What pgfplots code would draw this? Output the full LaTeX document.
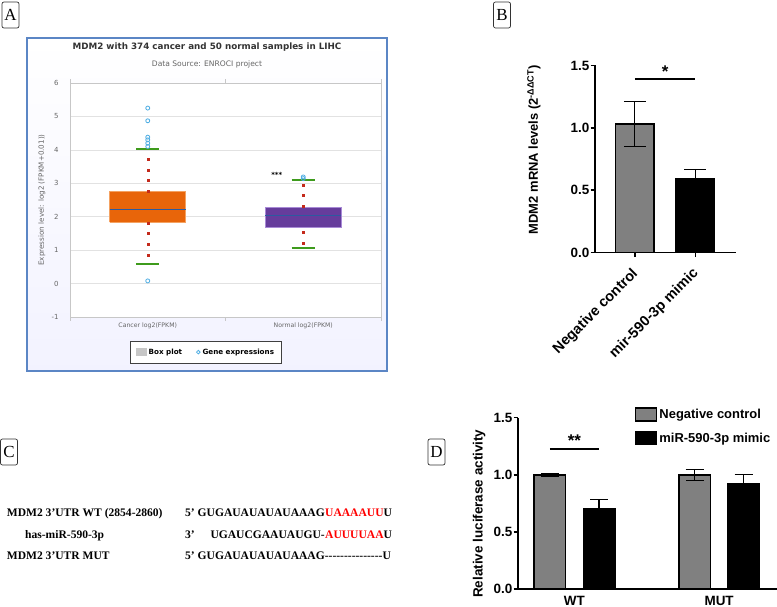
\documentclass[border=0pt]{standalone}
\usepackage{fontspec}
\usepackage{pgfplots}
\pgfplotsset{compat=1.18}
\setmainfont{Liberation Sans}
\newfontfamily\djv{DejaVu Sans}
\newfontfamily\tms{Liberation Serif}
\definecolor{frameblue}{HTML}{5B86C5}
\definecolor{boxorange}{HTML}{E8650A}
\definecolor{boxorangeL}{HTML}{F4A262}
\definecolor{boxpurple}{HTML}{663C9C}
\definecolor{boxpurpleL}{HTML}{A88AD6}
\definecolor{medblue}{HTML}{2C5AA0}
\definecolor{whgreen}{HTML}{3E9B1C}
\definecolor{dotred}{HTML}{C42A1C}
\definecolor{outblue}{HTML}{4FAEE3}
\definecolor{gridgray}{HTML}{E2E2E2}
\definecolor{txtgray}{HTML}{666666}
\definecolor{bargray}{HTML}{808080}
\definecolor{seqred}{HTML}{FF0000}
\begin{document}
\begin{tikzpicture}
\useasboundingbox (0,0) rectangle (777bp,607bp);
\fill[white] (0,0) rectangle (777bp,607bp);

% panel letters
\foreach \l/\x/\y in {A/10.5/592, B/502/592, C/9/155, D/436.5/155}
  \node[draw=black!80, rounded corners=2bp, line width=0.7bp, font=\tms\fontsize{17}{17}\selectfont, minimum width=17bp, minimum height=26bp, inner sep=0pt] at (\x bp,\y bp) {\l};

% ---------------- Panel A ----------------
\shade[top color=white, bottom color=blue!5] (27bp,236bp) rectangle (387bp,569bp);
\draw[frameblue, line width=1.2bp] (27bp,236bp) rectangle (387bp,569bp);
\node[font=\djv\bfseries\fontsize{8.8}{10}\selectfont, text=black!80] at (207bp,560bp) {MDM2 with 374 cancer and 50 normal samples in LIHC};
\node[font=\djv\fontsize{7.6}{9}\selectfont, text=txtgray] at (207bp,543bp) {Data Source: ENROCI project};

\begin{axis}[
  at={(70bp,290bp)}, anchor=south west, scale only axis,
  width=311bp, height=234bp,
  xmin=0.5, xmax=2.5, ymin=-1, ymax=6,
  axis background/.style={fill=white},
  axis line style={draw=black!22, line width=0.8bp},
  ytick={-1,0,1,2,3,4,5,6}, ymajorgrids, grid style={gridgray, line width=0.7bp},
  major tick length=0pt,
  xtick={1,2}, xticklabels={Cancer log2(FPKM), Normal log2(FPKM)},
  extra x ticks={0.5,1.5,2.5}, extra x tick labels={},
  extra x tick style={major tick length=4bp, tick align=outside, tick style={draw=black!22, line width=0.8bp}, grid=none},
  yticklabel style={font=\djv\fontsize{7}{8}\selectfont, text=txtgray, xshift=-8bp},
  xticklabel style={font=\djv\fontsize{6.2}{8}\selectfont, text=txtgray, yshift=-2bp},
  /pgf/number format/assume math mode=true,
  ylabel={Expression level: log2 (FPKM+0.01))},
  every axis y label/.style={at={(axis description cs:-0.09,0.5)}, rotate=90, anchor=center, font=\djv\fontsize{7.2}{8}\selectfont, text=txtgray},
  legend style={at={(axis description cs:0.437,-0.15)}, anchor=center, legend columns=2,
    draw=black!75, line width=0.9bp, fill=white, inner xsep=5bp, inner ysep=5.5bp,
    font=\djv\bfseries\fontsize{7.2}{8}\selectfont,
    /tikz/every even column/.append style={column sep=12bp}},
  clip=false,
]
% cancer
\addplot[only marks, mark=square*, mark size=1bp, dotred, forget plot] coordinates {(1,3.72)(1,3.40)(1,3.08)(1,2.76)(1,1.81)(1,1.50)(1,1.18)(1,0.86)};
\addplot[fill=boxorange, draw=boxorangeL, line width=0.8bp, forget plot] coordinates {(0.755,1.84)(1.245,1.84)(1.245,2.75)(0.755,2.75)(0.755,1.84)};
\addplot[medblue, line width=1.5bp, forget plot] coordinates {(0.755,2.22)(1.245,2.22)};
\addplot[whgreen, line width=1.6bp, forget plot] coordinates {(0.926,4.02)(1.074,4.02)};
\addplot[whgreen, line width=1.6bp, forget plot] coordinates {(0.926,0.58)(1.074,0.58)};
\addplot[only marks, mark=o, mark size=2bp, outblue, line width=0.8bp, forget plot] coordinates {(1,5.25)(1,4.87)(1,4.38)(1,4.30)(1,4.20)(1,4.10)(1,0.08)};
% normal
\addplot[only marks, mark=square*, mark size=1bp, dotred, forget plot] coordinates {(2,2.94)(2,2.63)(2,2.30)(2,1.55)(2,1.22)};
\addplot[fill=boxpurple, draw=boxpurpleL, line width=0.8bp, forget plot] coordinates {(1.755,1.69)(2.245,1.69)(2.245,2.28)(1.755,2.28)(1.755,1.69)};
\addplot[medblue, line width=1.5bp, forget plot] coordinates {(1.755,2.04)(2.245,2.04)};
\addplot[whgreen, line width=1.6bp, forget plot] coordinates {(1.926,3.09)(2.074,3.09)};
\addplot[whgreen, line width=1.6bp, forget plot] coordinates {(1.926,1.06)(2.074,1.06)};
\addplot[only marks, mark=o, mark size=2bp, outblue, line width=0.8bp, forget plot] coordinates {(2,3.19)(2,3.14)};
\node[font=\djv\bfseries\fontsize{7}{8}\selectfont] at (axis cs:1.83,3.24) {***};
\addlegendimage{legend image code/.code={\fill[black!22] (0bp,-3.8bp) rectangle (10bp,3.8bp);}}
\addlegendentry{Box plot}
\addlegendimage{legend image code/.code={\draw[outblue, line width=0.8bp] (5bp,0bp) circle (1.8bp);}}
\addlegendentry{Gene expressions}
\end{axis}

% ---------------- Panel B ----------------
\begin{axis}[
  at={(595bp,354.3bp)}, anchor=south west, scale only axis,
  width=141bp, height=187.2bp,
  xmin=-0.66, xmax=1.67, ymin=0, ymax=1.5,
  axis lines*=left, axis line style={line width=1.6bp},
  ytick={0,0.5,1,1.5},
  /pgf/number format/assume math mode=true,
  /pgf/number format/fixed, /pgf/number format/fixed zerofill, /pgf/number format/precision=1,
  xtick={0,1}, xticklabels={Negative control, mir-590-3p mimic},
  tick align=outside, major tick length=4.5bp, tick style={line width=1.6bp, black},
  yticklabel style={inner sep=1bp, font=\bfseries\fontsize{13.5}{15}\selectfont},
  xticklabel style={xshift=-4bp, yshift=-8bp, rotate=45, anchor=north east, inner sep=1bp, font=\bfseries\fontsize{14.5}{16}\selectfont},
  ylabel={MDM2 mRNA levels (2\textsuperscript{-ΔΔCT})},
  every axis y label/.style={at={(axis description cs:-0.433,0.55)}, rotate=90, anchor=center, font=\bfseries\fontsize{13}{15}\selectfont},
  clip=false,
]
\addplot[ybar, bar shift=0pt, bar width=38.5bp, fill=bargray, draw=black, line width=1.5bp,
  error bars/.cd, y dir=both, y explicit,
  error bar style={line width=1.1bp, black},
  error mark options={rotate=90, mark size=11bp, line width=1.1bp, black}]
  coordinates {(0,1.03) +- (0,0.18)};
\addplot[ybar, bar shift=0pt, bar width=38.5bp, fill=black, draw=black, line width=1.5bp,
  error bars/.cd, y dir=both, y explicit,
  error bar style={line width=1.1bp, black},
  error mark options={rotate=90, mark size=11bp, line width=1.1bp, black}]
  coordinates {(1,0.59) +- (0,0.08)};
\addplot[black, line width=1.5bp] coordinates {(0,1.39)(1,1.39)};
\node[font=\bfseries\fontsize{17}{17}\selectfont, anchor=south, inner sep=0pt] at (axis cs:0.5,1.405) {*};
\end{axis}

% ---------------- Panel C ----------------
\begin{scope}[every node/.style={font=\tms\bfseries\fontsize{11.6}{13}\selectfont, inner sep=0pt}]
\node[anchor=base west] at (6.7bp,90bp) {MDM2 3’UTR WT (2854-2860)};
\node[anchor=base east] at (325bp,90bp) {5’ GUGAUAUAUAUAAAG};
\node[anchor=base west] at (325bp,90bp) {\textcolor{seqred}{UAAAAUU}U};
\node[anchor=base west] at (25bp,68bp) {has-miR-590-3p};
\node[anchor=base west] at (185bp,68bp) {3’};
\node[anchor=base east] at (325bp,68bp) {UGAUCGAAUAUGU-};
\node[anchor=base west] at (325bp,68bp) {\textcolor{seqred}{AUUUUAA}U};
\node[anchor=base west] at (6.7bp,47bp) {MDM2 3’UTR MUT};
\node[anchor=base west] at (185bp,47bp) {5’ GUGAUAUAUAUAAAG{-}{-}{-}{-}{-}{-}{-}{-}{-}{-}{-}{-}{-}{-}{-}U};
\end{scope}

% ---------------- Panel D ----------------
\begin{axis}[
  at={(518bp,18bp)}, anchor=south west, scale only axis,
  width=259bp, height=171.3bp,
  xmin=-0.39, xmax=1.40, ymin=0, ymax=1.5,
  axis lines*=left, axis line style={line width=1.6bp},
  ybar=17.7bp, bar width=31.5bp,
  ytick={0,0.5,1,1.5},
  /pgf/number format/assume math mode=true,
  /pgf/number format/fixed, /pgf/number format/fixed zerofill, /pgf/number format/precision=1,
  xtick={0,1}, xticklabels={WT, MUT},
  xtick style={draw=none},
  tick align=outside, major tick length=4.5bp, tick style={line width=1.6bp, black},
  yticklabel style={inner sep=1bp, font=\bfseries\fontsize{13.5}{15}\selectfont},
  xticklabel style={yshift=1bp, font=\bfseries\fontsize{13.5}{15}\selectfont},
  ylabel={Relative luciferase activity},
  every axis y label/.style={at={(axis description cs:-0.15,0.44)}, rotate=90, anchor=center, font=\bfseries\fontsize{13.5}{15}\selectfont},
  legend style={at={(axis description cs:0.44,1.075)}, anchor=north west, draw=none, fill=none,
    font=\bfseries\fontsize{13}{15}\selectfont, row sep=9bp},
  legend cell align=left,
  legend image code/.code={\draw[#1, draw=black, line width=1.3bp] (0bp,-6.5bp) rectangle (21bp,6.5bp);},
  clip=false,
]
\addplot[fill=bargray, draw=black, line width=1.5bp,
  error bars/.cd, y dir=both, y explicit,
  error bar style={line width=1.1bp, black},
  error mark options={rotate=90, mark size=9bp, line width=1.1bp, black}]
  coordinates {(0,1.0) +- (0,0.015) (1,1.0) +- (0,0.05)};
\addlegendentry{Negative control}
\addplot[fill=black, draw=black, line width=1.5bp,
  error bars/.cd, y dir=both, y explicit,
  error bar style={line width=1.1bp, black},
  error mark options={rotate=90, mark size=9bp, line width=1.1bp, black}]
  coordinates {(0,0.703) +- (0,0.082) (1,0.925) +- (0,0.075)};
\addlegendentry{miR-590-3p mimic}
\addplot[sharp plot, black, line width=1.5bp, forget plot] coordinates {(-0.17,1.226)(0.17,1.226)};
\node[font=\bfseries\fontsize{17}{17}\selectfont, anchor=south, inner sep=0pt] at (axis cs:0,1.25) {**};
\end{axis}
\end{tikzpicture}
\end{document}
